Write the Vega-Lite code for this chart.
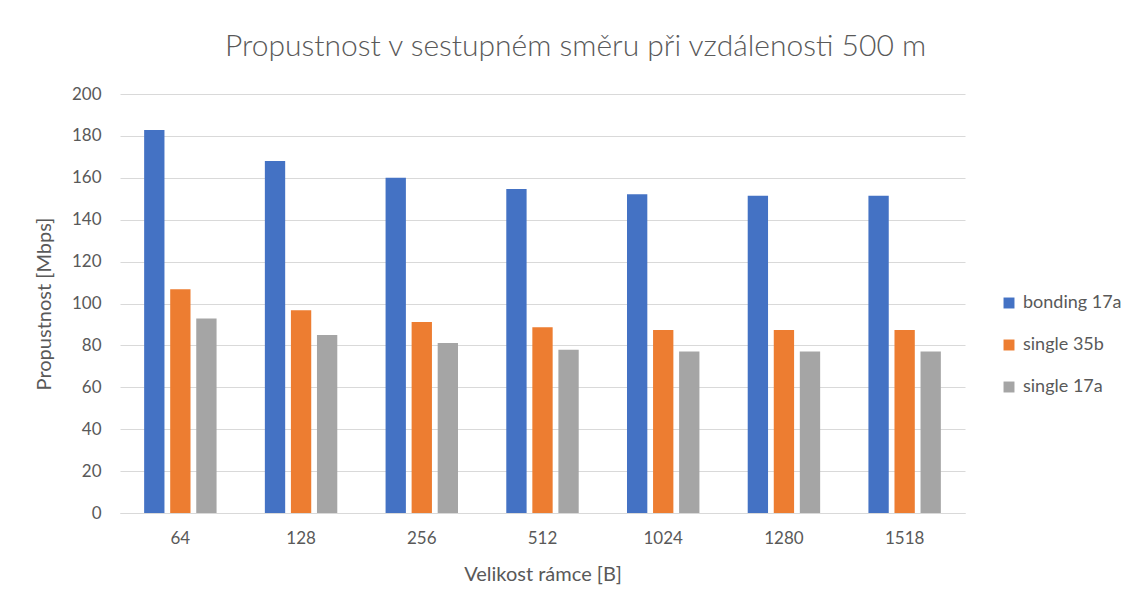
{
  "$schema": "https://vega.github.io/schema/vega-lite/v6.json",
  "width": 845,
  "height": 419,
  "autosize": {"type": "none"},
  "padding": {"left": 120, "top": 94, "right": 179, "bottom": 97},
  "background": "white",
  "title": {
    "text": "Propustnost v sestupném směru při vzdálenosti 500 m",
    "anchor": "middle",
    "dx": 33,
    "offset": 23,
    "fontSize": 30,
    "font": "Lato",
    "fontWeight": 300,
    "color": "#595959"
  },
  "data": {
    "values": [
      {"size": "64", "series": "bonding 17a", "value": 182.8},
      {"size": "64", "series": "single 35b", "value": 106.8},
      {"size": "64", "series": "single 17a", "value": 92.8},
      {"size": "128", "series": "bonding 17a", "value": 168.0},
      {"size": "128", "series": "single 35b", "value": 96.8},
      {"size": "128", "series": "single 17a", "value": 85.0},
      {"size": "256", "series": "bonding 17a", "value": 160.0},
      {"size": "256", "series": "single 35b", "value": 91.2},
      {"size": "256", "series": "single 17a", "value": 81.1},
      {"size": "512", "series": "bonding 17a", "value": 154.6},
      {"size": "512", "series": "single 35b", "value": 88.7},
      {"size": "512", "series": "single 17a", "value": 77.9},
      {"size": "1024", "series": "bonding 17a", "value": 152.2},
      {"size": "1024", "series": "single 35b", "value": 87.4},
      {"size": "1024", "series": "single 17a", "value": 77.1},
      {"size": "1280", "series": "bonding 17a", "value": 151.4},
      {"size": "1280", "series": "single 35b", "value": 87.4},
      {"size": "1280", "series": "single 17a", "value": 77.1},
      {"size": "1518", "series": "bonding 17a", "value": 151.4},
      {"size": "1518", "series": "single 35b", "value": 87.4},
      {"size": "1518", "series": "single 17a", "value": 77.1}
    ]
  },
  "mark": {"type": "bar"},
  "encoding": {
    "x": {
      "field": "size",
      "type": "nominal",
      "sort": ["64", "128", "256", "512", "1024", "1280", "1518"],
      "scale": {"paddingInner": 0.4, "paddingOuter": 0.2},
      "axis": {
        "title": "Velikost rámce [B]",
        "labelAngle": 0,
        "ticks": false,
        "domainColor": "#d9d9d9",
        "domainWidth": 1,
        "labelPadding": 17,
        "titlePadding": 18,
        "titleFontSize": 20
      }
    },
    "xOffset": {
      "field": "series",
      "type": "nominal",
      "sort": ["bonding 17a", "single 35b", "single 17a"],
      "scale": {"paddingInner": 0.22}
    },
    "y": {
      "field": "value",
      "type": "quantitative",
      "scale": {"domain": [0, 200], "nice": false},
      "axis": {
        "title": "Propustnost [Mbps]",
        "values": [0, 20, 40, 60, 80, 100, 120, 140, 160, 180, 200],
        "ticks": false,
        "domain": false,
        "labelPadding": 19,
        "titlePadding": 17,
        "titleFontSize": 20,
        "gridColor": "#d9d9d9",
        "gridWidth": 1
      }
    },
    "color": {
      "field": "series",
      "type": "nominal",
      "sort": ["bonding 17a", "single 35b", "single 17a"],
      "scale": {
        "domain": ["bonding 17a", "single 35b", "single 17a"],
        "range": ["#4472c4", "#ed7d31", "#a5a5a5"]
      },
      "legend": {
        "title": null,
        "orient": "none",
        "legendX": 880,
        "legendY": 200,
        "symbolType": "square",
        "symbolSize": 120,
        "symbolStrokeWidth": 0,
        "rowPadding": 24,
        "labelFontSize": 18,
        "labelOffset": 5
      }
    }
  },
  "config": {
    "font": "Lato",
    "view": {"stroke": null},
    "axis": {
      "labelFont": "Lato",
      "titleFont": "Lato",
      "labelFontSize": 17,
      "titleFontSize": 18,
      "titleFontWeight": "normal",
      "labelColor": "#595959",
      "titleColor": "#595959"
    },
    "legend": {
      "labelFont": "Lato",
      "labelColor": "#595959"
    }
  }
}
